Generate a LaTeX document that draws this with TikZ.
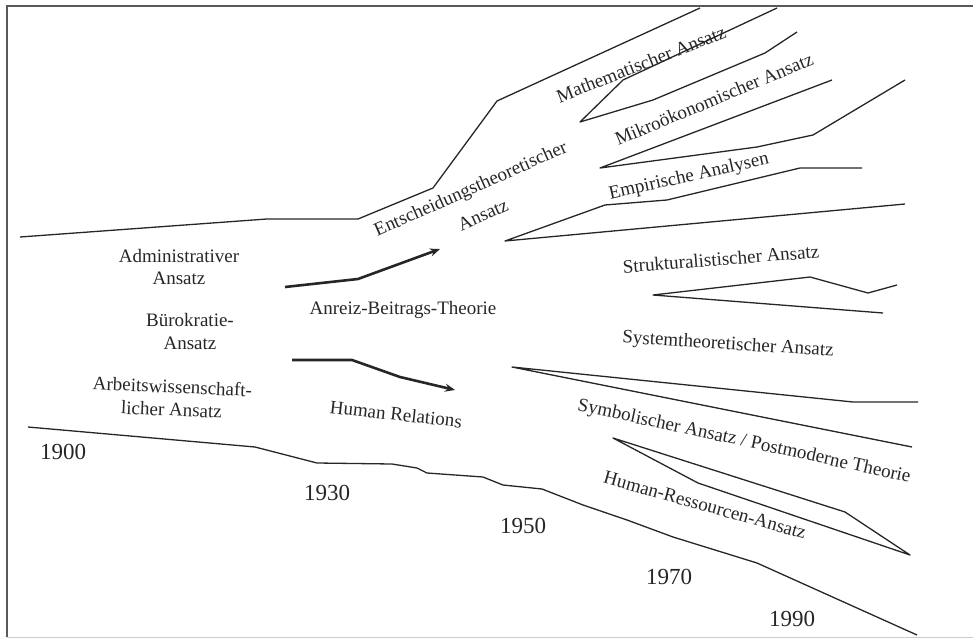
\documentclass[tikz,border=0pt]{standalone}
\usepackage{fontspec}
\setmainfont{Liberation Serif}
\usetikzlibrary{arrows.meta}
\tikzset{
  lbl/.style={inner sep=0pt, font=\fontsize{19}{22}\selectfont, text=black!85},
  yr/.style={inner sep=0pt, font=\fontsize{23}{26}\selectfont, text=black!85},
  ln/.style={line width=1.3pt, line join=round, draw=black!85},
  arr/.style={line width=2.6pt, line join=round, draw=black!85, -{Stealth[length=10pt,width=8pt]}},
  frame/.style={line width=1.8pt, draw=black!65}
}
\begin{document}
\begin{tikzpicture}[x=1pt,y=-1pt]
\useasboundingbox (0,0) rectangle (973,639);
% frame
\draw[frame] (975,6) -- (7,6) -- (7,637);
\draw[line width=1pt, draw=black!20] (7,637) -- (975,637);

% upper envelope
\draw[ln] (20,237) -- (267,219) -- (358,219) -- (433,188) -- (497,101) -- (700,8);
% Mathematischer / Mikro polygon
\draw[ln] (777,8) -- (623,80) -- (580,122) -- (653,100) -- (765,53) -- (797,32);
% Mikrooekonomischer polygon
\draw[ln] (832,80) -- (600,168) -- (757,147) -- (813,135) -- (905,80);
% Empirische polygon
\draw[ln] (862,168) -- (800,168) -- (667,200) -- (605,205) -- (505,241) -- (905,204);
% Strukturalistischer polygon
\draw[ln] (897,285) -- (868,293) -- (810,277) -- (653,295) -- (883,313);
% Systemtheoretischer
\draw[ln] (918,402) -- (853,402) -- (512,367) -- (912,447);
% Human-Ressourcen polygon
\draw[ln] (613,438) -- (845,512) -- (910,555) -- (698,483) -- cycle;
% timeline
\draw[ln] (28,427) -- (255,447) -- (317,463) -- (392,464) -- (417,468) -- (427,473)
  -- (483,477) -- (503,485) -- (542,489) -- (583,505) -- (627,520) -- (673,537)
  -- (757,563) -- (917,635);

% arrows
\coordinate (a1s) at (285,287);
\coordinate (a1e) at (440,249);
\draw[arr] (a1s) -- (358,279) -- (a1e);
\coordinate (a2s) at (292,360);
\coordinate (a2e) at (455,390);
\draw[arr] (a2s) -- (352,360) -- (400,377) -- (a2e);

% labels left
\node[lbl, align=center] (adm) at (179,267) {Administrativer\\Ansatz};
\node[lbl, align=center, font=\fontsize{19}{23}\selectfont] (bur) at (190,331) {Bürokratie-\\Ansatz};
\node[lbl, align=center, rotate=-2.5, font=\fontsize{19}{23}\selectfont] (arb) at (172,398) {Arbeitswissenschaft-\\licher Ansatz};

% middle labels
\node[lbl, rotate=24] (ent) at (471,190) {Entscheidungstheoretischer};
\node[lbl, rotate=24] (ent2) at (483,215) {Ansatz};
\node[lbl] (anr) at (403,310) {Anreiz-Beitrags-Theorie};
\node[lbl, rotate=-6.4] (hr) at (396,414) {Human Relations};

% right labels
\node[lbl, rotate=21.5] (mat) at (641,64) {Mathematischer Ansatz};
\node[lbl, rotate=22.6] (mik) at (714,99) {Mikroökonomischer Ansatz};
\node[lbl, rotate=12.5] (emp) at (689,177) {Empirische Analysen};
\node[lbl, rotate=4.5] (str) at (721,259) {Strukturalistischer Ansatz};
\node[lbl, rotate=-3.7] (sys) at (728,345) {Systemtheoretischer Ansatz};
\node[lbl, rotate=-12.2] (sym) at (744,442) {Symbolischer Ansatz / Postmoderne Theorie};
\node[lbl, rotate=-15.6] (hra) at (705,505) {Human-Ressourcen-Ansatz};

% years
\node[yr] (y1900) at (63,452) {1900};
\node[yr] (y1930) at (327,493) {1930};
\node[yr] (y1950) at (523,526) {1950};
\node[yr] (y1970) at (669,577) {1970};
\node[yr] (y1990) at (792,619) {1990};
\end{tikzpicture}
\end{document}
